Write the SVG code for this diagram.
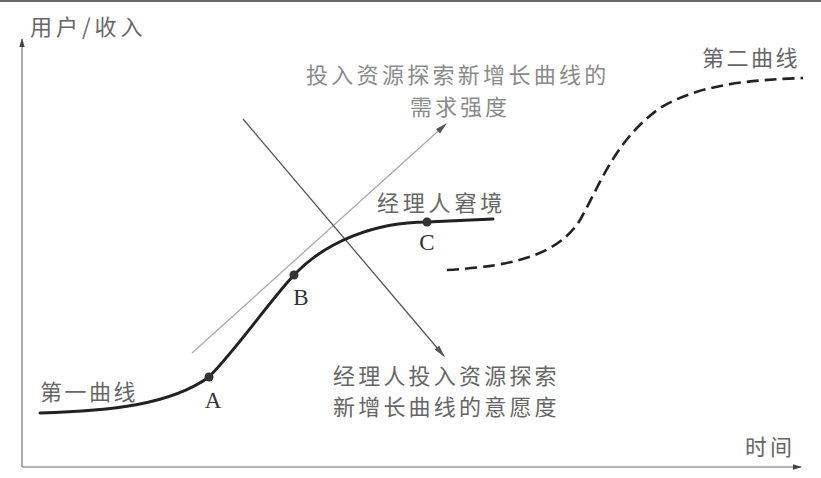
<svg xmlns="http://www.w3.org/2000/svg" width="821" height="478" viewBox="0 0 821 478">
<style>
.cjk{font-family:"Noto Sans CJK SC","Noto Sans",sans-serif;font-size:22px;fill:#666}
.lt{fill:#8a8a8a}
.pt{font-family:"Liberation Serif",serif;font-size:23px;fill:#333}
.axis{stroke:#999;stroke-width:1.6;fill:none}
.curve{stroke:#222;stroke-width:3;fill:none;stroke-linecap:round}
.dash{stroke:#222;stroke-width:2.6;fill:none;stroke-dasharray:12 6}
.dot{fill:#333}
</style>
<defs>
<marker id="ah" viewBox="0 0 10 10" refX="9" refY="5" markerWidth="9" markerHeight="9" markerUnits="userSpaceOnUse" orient="auto">
<path d="M0,2 L10,5 L0,8 Z" fill="#444"/>
</marker>
<marker id="ahs" viewBox="0 0 10 10" refX="9" refY="5" markerWidth="12" markerHeight="12" markerUnits="userSpaceOnUse" orient="auto">
<path d="M0,2.5 L10,5 L0,7.5 Z" fill="#555"/>
</marker>
</defs>
<rect width="821" height="478" fill="#fff"/>
<line x1="0" y1="1" x2="821" y2="1" stroke="#666" stroke-width="2"/>

<g id="axes">
<line class="axis" x1="22" y1="467" x2="22" y2="39" marker-end="url(#ah)"/>
<line class="axis" x1="22" y1="467" x2="801" y2="467" marker-end="url(#ah)"/>
<text class="cjk" x="30" y="35" letter-spacing="4">用户/收入</text>
<text class="cjk" x="745" y="455" letter-spacing="3">时间</text>
</g>

<g id="connectors">
<line x1="192" y1="353" x2="446" y2="124" stroke="#aaa" stroke-width="1.3" marker-end="url(#ahs)"/>
<line x1="243" y1="119" x2="444" y2="356" stroke="#555" stroke-width="1.3" marker-end="url(#ahs)"/>
</g>

<g id="first-curve">
<path class="curve" d="M40,413 C110,411 170,405 209,377 C240,345 268,303 294,275 C325,242 375,222 427,222 L493,219"/>
<text class="cjk" x="40" y="400" letter-spacing="2.5">第一曲线</text>
</g>

<g id="point-A">
<circle class="dot" cx="209" cy="377" r="4.5"/>
<text class="pt" x="213" y="408" text-anchor="middle">A</text>
</g>
<g id="point-B">
<circle class="dot" cx="294" cy="275" r="4.5"/>
<text class="pt" x="301" y="305" text-anchor="middle">B</text>
</g>
<g id="point-C">
<circle class="dot" cx="427" cy="222" r="4.5"/>
<text class="pt" x="427" y="250" text-anchor="middle">C</text>
</g>

<g id="second-curve">
<path class="dash" d="M447,270 C520,266 560,252 580,220 C600,185 615,140 660,108 C700,84 750,80 803,78"/>
<text class="cjk" x="702" y="66" letter-spacing="2.5">第二曲线</text>
</g>

<g id="label-dilemma">
<text class="cjk" x="377" y="211" letter-spacing="3.8">经理人窘境</text>
</g>

<g id="label-demand">
<text class="cjk lt" x="306" y="83" letter-spacing="3.3">投入资源探索新增长曲线的</text>
<text class="cjk lt" x="410" y="115" letter-spacing="3">需求强度</text>
</g>

<g id="label-willingness">
<text class="cjk" x="333" y="384" letter-spacing="3.2">经理人投入资源探索</text>
<text class="cjk" x="333" y="415" letter-spacing="3.2">新增长曲线的意愿度</text>
</g>
</svg>
